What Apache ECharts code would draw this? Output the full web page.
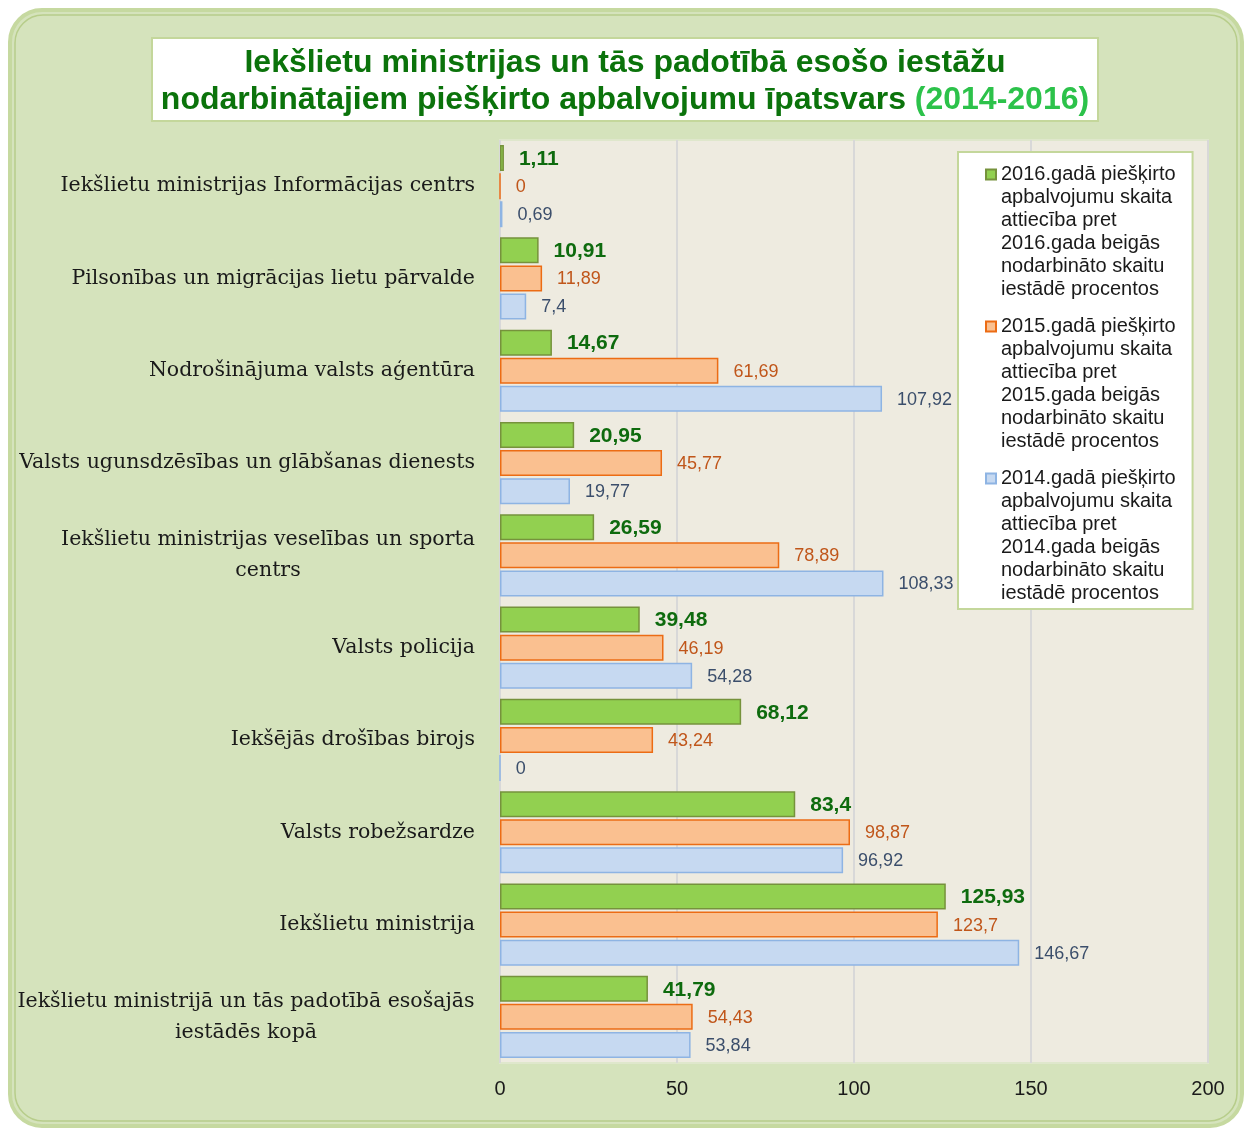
<!DOCTYPE html>
<html>
<head>
<meta charset="utf-8">
<script src="https://cdn.jsdelivr.net/npm/echarts@6/dist/echarts.min.js"></script>
<style>
  html, body { margin: 0; padding: 0; background: #fff; }
  #main { width: 1250px; height: 1128px; }
</style>
</head>
<body>
<div id="main"></div>
<script>
// kategorijas (no augšas uz leju)
var categories = [
  'Iekšlietu ministrijas Informācijas centrs',
  'Pilsonības un migrācijas lietu pārvalde',
  'Nodrošinājuma valsts aģentūra',
  'Valsts ugunsdzēsības un glābšanas dienests',
  'Iekšlietu ministrijas veselības un sporta\ncentrs',
  'Valsts policija',
  'Iekšējās drošības birojs',
  'Valsts robežsardze',
  'Iekšlietu ministrija',
  'Iekšlietu ministrijā un tās padotībā esošajās\niestādēs kopā'
];
var values2016 = [1.11, 10.91, 14.67, 20.95, 26.59, 39.48, 68.12, 83.4, 125.93, 41.79];
var values2015 = [0, 11.89, 61.69, 45.77, 78.89, 46.19, 43.24, 98.87, 123.7, 54.43];
var values2014 = [0.69, 7.4, 107.92, 19.77, 108.33, 54.28, 0, 96.92, 146.67, 53.84];
var legendNames = [
  '2016.gadā piešķirto\napbalvojumu skaita\nattiecība pret\n2016.gada beigās\nnodarbināto skaitu\niestādē procentos',
  '2015.gadā piešķirto\napbalvojumu skaita\nattiecība pret\n2015.gada beigās\nnodarbināto skaitu\niestādē procentos',
  '2014.gadā piešķirto\napbalvojumu skaita\nattiecība pret\n2014.gada beigās\nnodarbināto skaitu\niestādē procentos'
];
var xTicks = [0, 50, 100, 150, 200];

var serif = '"DejaVu Serif", "Liberation Serif", serif';
var sans = '"Liberation Sans", Arial, sans-serif';
var catSize = 20.5;

// daudzrindu nosaukumi - centrēti bloka iekšā
var ctx = document.createElement('canvas').getContext('2d');
ctx.font = catSize + 'px ' + serif;
var richCat = {};
categories.forEach(function (c, i) {
  if (c.indexOf('\n') >= 0) {
    var w = 0;
    c.split('\n').forEach(function (l) { w = Math.max(w, ctx.measureText(l).width); });
    richCat['w' + i] = { width: Math.ceil(w), align: 'center', fontSize: catSize, fontFamily: serif, color: '#1a1a1a', lineHeight: 31 };
  }
});

function fmt(p) { return String(p.value).replace('.', ','); }

var iconPath = 'path://M0 6.5H10V16.5H0Z M5 0L5 0 M5 138L5 138';

var chart = echarts.init(document.getElementById('main'));
chart.setOption({
  backgroundColor: '#fff',
  animation: false,
  graphic: [
    { type: 'rect', z: -10, shape: { x: 10, y: 10, width: 1232, height: 1116, r: 32 },
      style: { fill: '#d5e3bc', stroke: '#c6d9a0', lineWidth: 4 } },
    { type: 'rect', z: -9, shape: { x: 15, y: 15, width: 1222, height: 1106, r: 28 },
      style: { fill: 'none', stroke: '#b7cd8a', lineWidth: 1.5 } }
  ],
  title: {
    left: 'center',
    top: 35,
    backgroundColor: '#fff',
    borderColor: '#c4d79b',
    borderWidth: 2,
    padding: [10, 9, 5, 9],
    text: '{a|Iekšlietu ministrijas un tās padotībā esošo iestāžu}\n{a|nodarbinātajiem piešķirto apbalvojumu īpatsvars }{b|(2014-2016)}',
    textStyle: {
      rich: {
        a: { fontSize: 32, fontWeight: 'bold', fontFamily: sans, color: '#0b730b', lineHeight: 37 },
        b: { fontSize: 32, fontWeight: 'bold', fontFamily: sans, color: '#2cc24a', lineHeight: 37 }
      }
    }
  },
  legend: {
    orient: 'vertical',
    left: 958,
    top: 152,
    backgroundColor: '#fff',
    borderColor: '#c4d79b',
    borderWidth: 2,
    padding: [10, 17, 3, 27],
    itemGap: 12,
    itemWidth: 10,
    itemHeight: 138,
    icon: iconPath,
    textStyle: { fontSize: 20, fontFamily: sans, color: '#1a1a1a', lineHeight: 23 },
    data: legendNames
  },
  grid: {
    left: 500, right: 42, top: 140, bottom: 65,
    show: true,
    backgroundColor: '#eeebe0',
    borderColor: '#dfe7cc',
    borderWidth: 2
  },
  xAxis: {
    type: 'value',
    min: xTicks[0],
    max: xTicks[xTicks.length - 1],
    interval: 50,
    axisLine: { show: false },
    axisTick: { show: false },
    axisLabel: { fontSize: 20, fontFamily: sans, color: '#1a1a1a', margin: 16 },
    splitLine: { show: true, lineStyle: { color: '#d8d8d8', width: 2 } }
  },
  yAxis: {
    type: 'category',
    inverse: true,
    data: categories,
    axisLine: { show: false },
    axisTick: { show: false },
    axisLabel: {
      margin: 25,
      fontSize: catSize,
      fontFamily: serif,
      color: '#1a1a1a',
      lineHeight: 31,
      formatter: function (v, i) {
        if (v.indexOf('\n') < 0) return v;
        return v.split('\n').map(function (l) { return '{w' + i + '|' + l + '}'; }).join('\n');
      },
      rich: richCat
    }
  },
  series: [
    {
      name: legendNames[0], type: 'bar', data: values2016,
      barWidth: 26, barGap: '8%',
      itemStyle: { color: '#92d050', borderColor: '#76923c', borderWidth: 1.5 },
      label: { show: true, position: 'right', distance: 15, offset: [0, 1], formatter: fmt,
        fontSize: 21, fontWeight: 'bold', fontFamily: sans, color: '#0e6b0e' }
    },
    {
      name: legendNames[1], type: 'bar', data: values2015,
      barWidth: 26, barGap: '8%',
      itemStyle: { color: '#fac090', borderColor: '#ec6c14', borderWidth: 1.5 },
      label: { show: true, position: 'right', distance: 15, offset: [0, 1], formatter: fmt,
        fontSize: 18, fontFamily: sans, color: '#c0561a' }
    },
    {
      name: legendNames[2], type: 'bar', data: values2014,
      barWidth: 26, barGap: '8%',
      itemStyle: { color: '#c6d9f1', borderColor: '#8eb4e3', borderWidth: 1.5 },
      label: { show: true, position: 'right', distance: 15, offset: [0, 1], formatter: fmt,
        fontSize: 18, fontFamily: sans, color: '#3b4e6b' }
    }
  ]
});
</script>
</body>
</html>
